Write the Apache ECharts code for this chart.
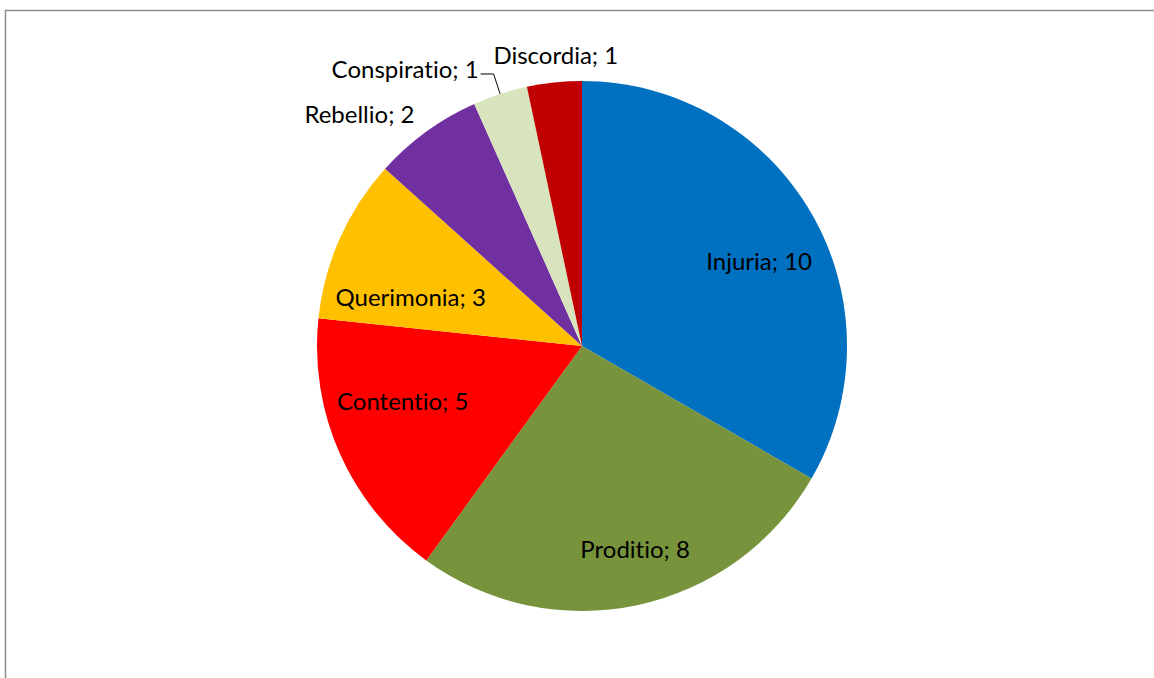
<!DOCTYPE html>
<html><head><meta charset="utf-8">
<script src="https://cdn.jsdelivr.net/npm/echarts@6/dist/echarts.min.js"></script>
<style>
html,body{margin:0;padding:0;background:#fff}
#c{width:1154px;height:678px}
#c text{font-variant-ligatures:none !important;font-feature-settings:"liga" 0,"clig" 0 !important}
</style>
</head><body><div id="c"></div>
<script>
// ---- data ----
const categories = ['Injuria', 'Proditio', 'Contentio', 'Querimonia', 'Rebellio', 'Conspiratio', 'Discordia'];
const values = [10, 8, 5, 3, 2, 1, 1];

// ---- styling ----
const colors = ['#0070C0', '#77933C', '#FF0000', '#FFC000', '#7030A0', '#D7E4BD', '#C00000'];
const insideLabel = [true, true, true, true, false, false, false];
const showLeader = [false, false, false, false, false, true, false];
// small label nudges (Excel "best fit" placement)
const nudgeInside = [[10, 11], [13, 14], [-3, -24], [5, 29], [0, 0], [0, 0], [0, 0]];
const nudgeOutside = [[0, 0], [0, 0], [0, 0], [0, 0], [4, -2], [2, -5], [70, -8]];

const FONT = 'Lato, "Open Sans", sans-serif';
const FONT_SIZE = 24;
const CENTER = [582, 346];
const R = 265;

const chart = echarts.init(document.getElementById('c'), null, {renderer: 'svg'});
const fmt = p => p.name + '; ' + p.value;

const mainData = categories.map((n, i) => ({
  name: n, value: values[i],
  itemStyle: {color: colors[i]},
  label: {show: !insideLabel[i]},
  labelLine: {show: showLeader[i], length: i === 5 ? 21 : 20, length2: i === 5 ? 13 : 0}
}));
const innerData = categories.map((n, i) => ({
  name: n, value: values[i],
  label: {show: insideLabel[i]}
}));

chart.setOption({
  animation: false,
  backgroundColor: '#fff',
  graphic: [{
    type: 'rect', silent: true,
    shape: {x: 5.5, y: 10.5, width: 1300, height: 800},
    style: {fill: 'none', stroke: '#8c8c8c', lineWidth: 1.5}
  }],
  series: [{
    type: 'pie',
    center: CENTER, radius: [0, R],
    startAngle: 90, clockwise: true,
    avoidLabelOverlap: false,
    silent: true,
    itemStyle: {borderWidth: 0},
    label: {
      position: 'outside', formatter: fmt, color: '#000',
      fontFamily: FONT, fontSize: FONT_SIZE, distanceToLabelLine: 4
    },
    labelLine: {lineStyle: {color: '#000', width: 1}, smooth: false},
    labelLayout: p => ({dx: nudgeOutside[p.dataIndex][0], dy: nudgeOutside[p.dataIndex][1]}),
    data: mainData
  }, {
    type: 'pie',
    center: CENTER, radius: [115, R],
    startAngle: 90, clockwise: true,
    avoidLabelOverlap: false,
    silent: true, z: 3,
    itemStyle: {color: 'rgba(0,0,0,0)', borderWidth: 0},
    label: {
      position: 'inside', formatter: fmt, color: '#000',
      fontFamily: FONT, fontSize: FONT_SIZE
    },
    labelLine: {show: false},
    labelLayout: p => ({dx: nudgeInside[p.dataIndex][0], dy: nudgeInside[p.dataIndex][1]}),
    data: innerData
  }]
});
</script></body></html>
